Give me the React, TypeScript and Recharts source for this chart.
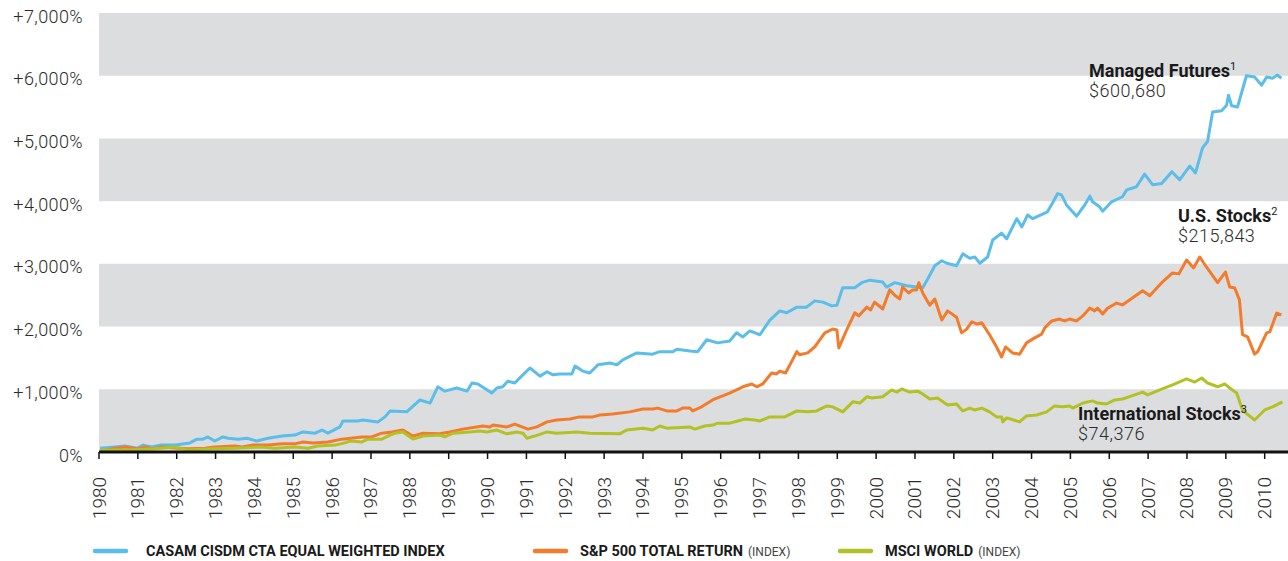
import { LineChart, Line, XAxis, YAxis, ReferenceArea } from "recharts";

// tick labels
const yearTicks = [
  1980, 1981, 1982, 1983, 1984, 1985, 1986, 1987, 1988, 1989, 1990, 1991, 1992, 1993, 1994, 1995,
  1996, 1997, 1998, 1999, 2000, 2001, 2002, 2003, 2004, 2005, 2006, 2007, 2008, 2009, 2010,
];
const pctTicks = [0, 1000, 2000, 3000, 4000, 5000, 6000, 7000];
const bands = [
  [0, 1000],
  [2000, 3000],
  [4000, 5000],
  [6000, 7000],
];

// cumulative return, % (year, value)
const managedFutures: [number, number][] = [
  [1980.03, 60], [1980.41, 80], [1980.67, 95], [1980.98, 60], [1981.13, 110], [1981.36, 80],
  [1981.57, 110], [1981.96, 110], [1982.34, 145], [1982.52, 205], [1982.68, 205], [1982.8, 240],
  [1982.98, 175], [1983.19, 240], [1983.32, 220], [1983.58, 205], [1983.81, 220], [1984.06, 175],
  [1984.35, 220], [1984.71, 255], [1985.04, 270], [1985.25, 320], [1985.56, 300], [1985.74, 350],
  [1985.89, 300], [1986.2, 400], [1986.28, 495], [1986.66, 495], [1986.79, 510], [1987.18, 480],
  [1987.36, 560], [1987.49, 655], [1987.92, 640], [1988.26, 830], [1988.52, 780], [1988.72, 1040],
  [1988.9, 970], [1989.21, 1020], [1989.47, 970], [1989.6, 1100], [1989.75, 1085], [1990.11, 940],
  [1990.24, 1020], [1990.39, 1040], [1990.52, 1130], [1990.7, 1100], [1990.91, 1230], [1991.09, 1340],
  [1991.35, 1210], [1991.53, 1280], [1991.68, 1230], [1991.86, 1245], [1992.17, 1245], [1992.25, 1370],
  [1992.45, 1290], [1992.63, 1260], [1992.84, 1390], [1993.15, 1420], [1993.33, 1390], [1993.48, 1470],
  [1993.84, 1580], [1994.25, 1560], [1994.43, 1600], [1994.77, 1600], [1994.87, 1640], [1995.21, 1610],
  [1995.41, 1600], [1995.64, 1790], [1995.92, 1740], [1996.23, 1770], [1996.41, 1900], [1996.57, 1835],
  [1996.75, 1930], [1997.01, 1870], [1997.26, 2100], [1997.52, 2250], [1997.7, 2220], [1997.96, 2310],
  [1998.21, 2310], [1998.42, 2410], [1998.63, 2390], [1998.86, 2330], [1998.99, 2340], [1999.14, 2620],
  [1999.45, 2620], [1999.63, 2700], [1999.84, 2740], [2000.17, 2710], [2000.27, 2630], [2000.48, 2700],
  [2000.79, 2650], [2001.2, 2620], [2001.38, 2820], [2001.51, 2970], [2001.69, 3050], [2001.82, 3010],
  [2002.07, 2970], [2002.23, 3160], [2002.41, 3090], [2002.54, 3110], [2002.67, 3010], [2002.87, 3110],
  [2003.0, 3380], [2003.23, 3490], [2003.36, 3400], [2003.62, 3720], [2003.75, 3590], [2003.9, 3780],
  [2004.03, 3720], [2004.41, 3830], [2004.54, 3970], [2004.67, 4120], [2004.77, 4100], [2004.9, 3940],
  [2005.16, 3760], [2005.37, 3940], [2005.5, 4080], [2005.57, 3990], [2005.75, 3910], [2005.83, 3840],
  [2006.06, 3990], [2006.34, 4070], [2006.45, 4180], [2006.7, 4230], [2006.91, 4430], [2007.12, 4260],
  [2007.35, 4280], [2007.61, 4470], [2007.81, 4340], [2008.07, 4560], [2008.22, 4450], [2008.4, 4850],
  [2008.53, 4950], [2008.66, 5420], [2008.89, 5440], [2009.02, 5530], [2009.07, 5690], [2009.15, 5520],
  [2009.3, 5500], [2009.53, 6000], [2009.74, 5980], [2009.92, 5850], [2010.05, 5980], [2010.2, 5960],
  [2010.33, 6010], [2010.43, 5960],
];

const sp500: [number, number][] = [
  [1980.03, 10], [1980.41, 60], [1980.67, 80], [1981.0, 50], [1981.18, 80], [1981.39, 50],
  [1981.62, 80], [1982.03, 60], [1982.29, 50], [1982.73, 60], [1982.98, 80], [1983.5, 95],
  [1983.68, 80], [1983.94, 110], [1984.35, 110], [1984.71, 130], [1985.04, 130], [1985.25, 160],
  [1985.51, 145], [1985.89, 160], [1986.25, 205], [1986.77, 240], [1987.02, 240], [1987.28, 300],
  [1987.54, 320], [1987.82, 350], [1988.08, 255], [1988.34, 300], [1988.77, 290], [1989.03, 320],
  [1989.36, 365], [1989.88, 415], [1990.06, 400], [1990.14, 430], [1990.5, 400], [1990.7, 445],
  [1991.04, 365], [1991.27, 400], [1991.53, 480], [1991.78, 510], [1992.12, 525], [1992.37, 560],
  [1992.71, 560], [1992.89, 590], [1993.22, 605], [1993.66, 640], [1994.0, 685], [1994.25, 685],
  [1994.38, 700], [1994.61, 655], [1994.87, 655], [1995.02, 700], [1995.21, 700], [1995.28, 655],
  [1995.51, 720], [1995.79, 830], [1996.23, 940], [1996.57, 1040], [1996.8, 1085], [1996.93, 1040],
  [1997.08, 1085], [1997.31, 1260], [1997.44, 1245], [1997.52, 1290], [1997.67, 1260], [1997.96, 1600],
  [1998.03, 1550], [1998.24, 1580], [1998.42, 1675], [1998.68, 1900], [1998.88, 1960], [1998.99, 1945],
  [1999.04, 1660], [1999.24, 1945], [1999.45, 2220], [1999.55, 2170], [1999.76, 2310], [1999.86, 2265],
  [1999.96, 2390], [2000.17, 2280], [2000.35, 2585], [2000.48, 2500], [2000.61, 2440], [2000.68, 2630],
  [2000.84, 2535], [2000.94, 2585], [2001.04, 2585], [2001.1, 2700], [2001.2, 2535], [2001.38, 2340],
  [2001.51, 2440], [2001.69, 2105], [2001.84, 2250], [2002.07, 2150], [2002.2, 1900], [2002.33, 1960],
  [2002.46, 2075], [2002.61, 2040], [2002.72, 2060], [2002.92, 1870], [2003.1, 1675], [2003.23, 1515],
  [2003.33, 1675], [2003.51, 1580], [2003.69, 1560], [2003.87, 1740], [2004.08, 1820], [2004.26, 1880],
  [2004.34, 1980], [2004.52, 2090], [2004.72, 2120], [2004.85, 2090], [2004.98, 2120], [2005.16, 2090],
  [2005.32, 2170], [2005.5, 2295], [2005.62, 2250], [2005.7, 2295], [2005.83, 2200], [2005.96, 2295],
  [2006.19, 2375], [2006.34, 2345], [2006.52, 2425], [2006.86, 2570], [2007.04, 2490], [2007.35, 2700],
  [2007.63, 2855], [2007.79, 2840], [2007.99, 3060], [2008.17, 2935], [2008.33, 3110], [2008.5, 2950],
  [2008.79, 2700], [2008.99, 2870], [2009.1, 2630], [2009.23, 2615], [2009.35, 2425], [2009.43, 1870],
  [2009.56, 1835], [2009.74, 1560], [2009.82, 1600], [2010.05, 1900], [2010.13, 1915], [2010.31, 2215],
  [2010.43, 2185],
];

const msciWorld: [number, number][] = [
  [1980.03, 30], [1980.75, 30], [1981.44, 50], [1981.96, 80], [1982.29, 30], [1982.91, 50],
  [1983.5, 60], [1984.19, 80], [1984.53, 60], [1985.04, 80], [1985.38, 60], [1985.63, 95],
  [1986.07, 110], [1986.33, 145], [1986.46, 175], [1986.77, 160], [1986.92, 205], [1987.28, 205],
  [1987.49, 270], [1987.62, 300], [1987.82, 320], [1988.08, 205], [1988.34, 255], [1988.77, 270],
  [1988.9, 240], [1989.11, 300], [1989.54, 320], [1989.8, 335], [1989.98, 320], [1990.24, 350],
  [1990.5, 290], [1990.75, 320], [1990.91, 300], [1991.01, 220], [1991.29, 270], [1991.53, 320],
  [1991.78, 300], [1992.3, 320], [1992.63, 300], [1993.4, 290], [1993.58, 350], [1994.0, 380],
  [1994.25, 350], [1994.43, 415], [1994.61, 380], [1995.2, 400], [1995.33, 365], [1995.59, 415],
  [1995.8, 430], [1995.92, 460], [1996.23, 460], [1996.44, 495], [1996.62, 525], [1996.88, 510],
  [1997.01, 495], [1997.26, 560], [1997.65, 560], [1997.96, 655], [1998.24, 640], [1998.47, 655],
  [1998.73, 735], [1998.88, 720], [1999.14, 640], [1999.4, 800], [1999.58, 780], [1999.76, 880],
  [1999.89, 860], [2000.17, 880], [2000.4, 990], [2000.53, 955], [2000.66, 1005], [2000.86, 955],
  [2001.07, 970], [2001.2, 925], [2001.38, 845], [2001.58, 860], [2001.84, 750], [2002.07, 765],
  [2002.23, 655], [2002.41, 700], [2002.54, 670], [2002.72, 700], [2002.92, 640], [2003.1, 560],
  [2003.23, 560], [2003.26, 480], [2003.36, 545], [2003.69, 480], [2003.87, 575], [2004.13, 590],
  [2004.39, 640], [2004.59, 735], [2004.8, 720], [2004.98, 735], [2005.06, 700], [2005.32, 780],
  [2005.57, 815], [2005.7, 780], [2005.93, 765], [2006.14, 830], [2006.34, 845], [2006.58, 895],
  [2006.86, 955], [2006.99, 910], [2007.3, 990], [2007.63, 1070], [2007.99, 1165], [2008.2, 1115],
  [2008.38, 1180], [2008.53, 1100], [2008.79, 1040], [2008.97, 1085], [2009.1, 1020], [2009.28, 940],
  [2009.41, 700], [2009.48, 640], [2009.74, 510], [2010.0, 670], [2010.2, 720], [2010.46, 800],
];

const seriesNames = ["CASAM CISDM CTA EQUAL WEIGHTED INDEX", "S&P 500 TOTAL RETURN", "MSCI WORLD"];
const seriesSuffix = ["", "(INDEX)", "(INDEX)"];
const seriesColors = ["#5BBDEA", "#F47B2B", "#B2C125"];

const calloutTitles = ["Managed Futures", "U.S. Stocks", "International Stocks"];
const calloutNotes = ["1", "2", "3"];
const calloutValues = ["$600,680", "$215,843", "$74,376"];

const toRows = (pts: [number, number][]) => pts.map(([year, value]) => ({ year, value }));

const fmtPct = (v: number) => (v === 0 ? "0%" : `+${v.toLocaleString("en-US")}%`);

function PctTick({ y, payload }: any) {
  return (
    <text
      x={83}
      y={y + 3}
      textAnchor="end"
      dominantBaseline="central"
      fontFamily="Roboto"
      fontWeight={300}
      fontSize={18}
      letterSpacing={0.4}
      fill="#2b2b2b"
    >
      {fmtPct(payload.value)}
    </text>
  );
}

function YearTick({ x, y, payload }: any) {
  return (
    <text
      transform={`translate(${x}, ${y + 16}) rotate(-90)`}
      textAnchor="end"
      dominantBaseline="central"
      fontFamily="Roboto"
      fontWeight={300}
      fontSize={19}
      fill="#2b2b2b"
    >
      {payload.value}
    </text>
  );
}

const calloutPos = [
  { x: 1089, y: 77 },
  { x: 1178, y: 222 },
  { x: 1078, y: 420 },
];

const legendPos = [
  { line: 93, text: 146 },
  { line: 533, text: 580 },
  { line: 838, text: 885 },
];

export default function App() {
  const series = [managedFutures, sp500, msciWorld];
  return (
    <div style={{ position: "absolute", left: 0, top: 0, width: 1288, height: 561, background: "#fff" }}>
      <LineChart width={1288} height={561} margin={{ top: 13, right: 0, bottom: 49, left: 0 }}>
        {bands.map(([a, b]) => (
          <ReferenceArea key={a} y1={a} y2={b} fill="#DCDDDF" fillOpacity={1} stroke="none" ifOverflow="visible" />
        ))}
        <XAxis
          dataKey="year"
          type="number"
          domain={[1980, 2010.6]}
          ticks={yearTicks}
          interval={0}
          height={60}
          allowDuplicatedCategory={false}
          axisLine={{ stroke: "#111", strokeWidth: 3 }}
          tickLine={{ stroke: "#111", strokeWidth: 1.5 }}
          tickSize={7}
          tick={<YearTick />}
        />
        <YAxis
          type="number"
          domain={[0, 7000]}
          ticks={pctTicks}
          interval={0}
          width={99}
          axisLine={false}
          tickLine={false}
          tick={<PctTick />}
        />
        {series.map((pts, i) => (
          <Line
            key={seriesNames[i]}
            data={toRows(pts)}
            dataKey="value"
            type="linear"
            stroke={seriesColors[i]}
            strokeWidth={3}
            strokeLinejoin="round"
            dot={false}
            activeDot={false}
            isAnimationActive={false}
          />
        ))}
      </LineChart>

      <svg
        width={1288}
        height={561}
        style={{ position: "absolute", left: 0, top: 0, pointerEvents: "none" }}
      >
        {calloutTitles.map((t, i) => (
          <g key={t} fontFamily="Roboto">
            <text x={calloutPos[i].x} y={calloutPos[i].y} fontSize={18} fontWeight={700} fill="#1a1a1a">
              {t}
              <tspan fontSize={11} dy={-7} fontWeight={400}>
                {calloutNotes[i]}
              </tspan>
            </text>
            <text
              x={calloutPos[i].x}
              y={calloutPos[i].y + 20}
              fontSize={18}
              fontWeight={300}
              letterSpacing={0.5}
              fill="#2b2b2b"
            >
              {calloutValues[i]}
            </text>
          </g>
        ))}
        {seriesNames.map((name, i) => (
          <g key={name} fontFamily="Roboto">
            <line
              x1={legendPos[i].line + 2}
              x2={legendPos[i].line + 33}
              y1={551}
              y2={551}
              stroke={seriesColors[i]}
              strokeWidth={4.5}
              strokeLinecap="round"
            />
            <text x={legendPos[i].text} y={556} fontSize={14.5} fontWeight={700} fill="#1a1a1a">
              {name}
              {seriesSuffix[i] && (
                <tspan fontSize={12} fontWeight={400} fill="#444" dx={5}>
                  {seriesSuffix[i]}
                </tspan>
              )}
            </text>
          </g>
        ))}
      </svg>
    </div>
  );
}
